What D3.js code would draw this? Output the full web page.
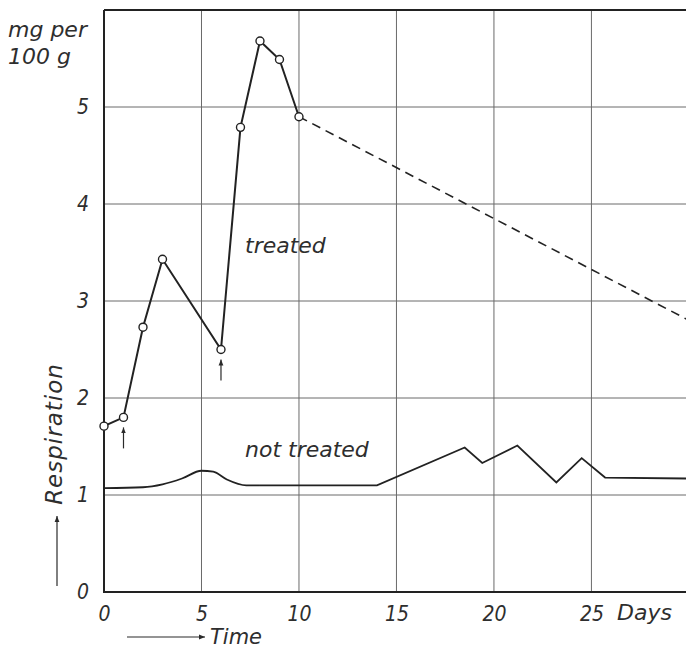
<!DOCTYPE html>
<html>
<head>
<meta charset="utf-8">
<script src="https://cdn.jsdelivr.net/npm/d3@7"></script>
<style>
  body { margin: 0; background: #fff; }
  svg text {
    font-family: 'DejaVu Sans', sans-serif;
    font-style: oblique;
    fill: #2e2e2e;
  }
  svg .tick text {
    font-family: 'DejaVu Sans Condensed', 'DejaVu Sans', sans-serif;
  }
</style>
</head>
<body>
<script>
// Treated samples (open circles)
const treatedDays = [0, 1, 2, 3, 6, 7, 8, 9, 10];
const treatedValues = [1.71, 1.8, 2.73, 3.43, 2.5, 4.79, 5.68, 5.49, 4.9];

// Projected decline (dashed)
const projectedDays = [10, 30];
const projectedValues = [4.9, 2.8];

// Not treated: smooth hump at the start, then straight segments
const controlSmoothDays = [0, 2, 3, 4, 5, 5.6, 6.3, 7.3, 8];
const controlSmoothValues = [1.07, 1.08, 1.11, 1.17, 1.25, 1.24, 1.16, 1.1, 1.1];
const controlDays = [8, 14, 18.5, 19.4, 21.2, 23.2, 24.5, 25.7, 30];
const controlValues = [1.1, 1.1, 1.49, 1.33, 1.51, 1.13, 1.38, 1.18, 1.17];

// Days marked with an arrow under the point
const arrowDays = [1, 6];

const xTicks = [0, 5, 10, 15, 20, 25];
const yTicks = [0, 1, 2, 3, 4, 5];

const width = 686;
const height = 651;

const x = d3.scaleLinear().domain([0, 29.85]).range([104, 686]);
const y = d3.scaleLinear().domain([0, 6]).range([592, 10]);

const svg = d3
  .select('body')
  .append('svg')
  .attr('width', width)
  .attr('height', height);

const defs = svg.append('defs');
defs
  .append('clipPath')
  .attr('id', 'plot')
  .append('rect')
  .attr('x', 104)
  .attr('y', 0)
  .attr('width', 582)
  .attr('height', 600);

defs
  .append('marker')
  .attr('id', 'head')
  .attr('viewBox', '0 0 10 10')
  .attr('refX', 10)
  .attr('refY', 5)
  .attr('markerWidth', 6)
  .attr('markerHeight', 6)
  .attr('markerUnits', 'userSpaceOnUse')
  .attr('orient', 'auto')
  .append('path')
  .attr('d', 'M0,1 L10,5 L0,9 Z')
  .attr('fill', '#2a2a2a');

// Grid
const grid = svg.append('g').attr('stroke', '#6a6a6a').attr('stroke-width', 1);
grid
  .selectAll('line.v')
  .data(xTicks.slice(1))
  .enter()
  .append('line')
  .attr('x1', (d) => x(d))
  .attr('x2', (d) => x(d))
  .attr('y1', y(6))
  .attr('y2', y(0));
grid
  .selectAll('line.h')
  .data(yTicks.slice(1))
  .enter()
  .append('line')
  .attr('x1', x(0))
  .attr('x2', width)
  .attr('y1', (d) => y(d))
  .attr('y2', (d) => y(d));

// Frame: left axis, bottom axis, top border
const frame = svg.append('g').attr('stroke', '#222').attr('stroke-width', 2).attr('fill', 'none');
frame.append('line').attr('x1', x(0)).attr('x2', x(0)).attr('y1', y(6)).attr('y2', y(0) + 1);
frame.append('line').attr('x1', x(0)).attr('x2', width).attr('y1', y(0)).attr('y2', y(0));
frame.append('line').attr('x1', x(0)).attr('x2', width).attr('y1', y(6)).attr('y2', y(6));

// Tick labels via d3 axes
const xAxis = d3.axisBottom(x).tickValues(xTicks).tickSize(0).tickPadding(14).tickFormat(d3.format('d'));
const xg = svg.append('g').attr('transform', `translate(0, ${y(0)})`).call(xAxis);
xg.select('.domain').remove();
xg.selectAll('text').style('font-size', '21px').attr('fill', '#2e2e2e');

const yAxis = d3.axisLeft(y).tickValues(yTicks).tickSize(0).tickPadding(15).tickFormat(d3.format('d'));
const yg = svg.append('g').attr('transform', `translate(${x(0)}, 0)`).call(yAxis);
yg.select('.domain').remove();
yg.selectAll('text').style('font-size', '21px').attr('fill', '#2e2e2e').attr('dy', '0.3em');

// Data lines
const plot = svg.append('g').attr('clip-path', 'url(#plot)');

const line = d3
  .line()
  .x((d) => x(d[0]))
  .y((d) => y(d[1]));

plot
  .append('path')
  .datum(controlSmoothDays.map((d, i) => [d, controlSmoothValues[i]]))
  .attr('d', line.curve(d3.curveMonotoneX))
  .attr('fill', 'none')
  .attr('stroke', '#222')
  .attr('stroke-width', 1.8);

plot
  .append('path')
  .datum(controlDays.map((d, i) => [d, controlValues[i]]))
  .attr('d', line.curve(d3.curveLinear))
  .attr('fill', 'none')
  .attr('stroke', '#222')
  .attr('stroke-width', 1.8);

plot
  .append('path')
  .datum(projectedDays.map((d, i) => [d, projectedValues[i]]))
  .attr('d', line)
  .attr('fill', 'none')
  .attr('stroke', '#222')
  .attr('stroke-width', 1.6)
  .attr('stroke-dasharray', '9,6');

const treated = treatedDays.map((d, i) => [d, treatedValues[i]]);
plot
  .append('path')
  .datum(treated)
  .attr('d', line)
  .attr('fill', 'none')
  .attr('stroke', '#222')
  .attr('stroke-width', 2);

svg
  .append('g')
  .selectAll('circle')
  .data(treated)
  .enter()
  .append('circle')
  .attr('cx', (d) => x(d[0]))
  .attr('cy', (d) => y(d[1]))
  .attr('r', 4)
  .attr('fill', '#fff')
  .attr('stroke', '#222')
  .attr('stroke-width', 1.4);

// Arrows under marked points
svg
  .append('g')
  .selectAll('line')
  .data(arrowDays)
  .enter()
  .append('line')
  .attr('x1', (d) => x(d))
  .attr('x2', (d) => x(d))
  .attr('y1', (d) => y(treatedValues[treatedDays.indexOf(d)]) + 31)
  .attr('y2', (d) => y(treatedValues[treatedDays.indexOf(d)]) + 10)
  .attr('stroke', '#2a2a2a')
  .attr('stroke-width', 1.2)
  .attr('marker-end', 'url(#head)');

// Text labels
svg.append('text').attr('x', 8).attr('y', 37).style('font-size', '22px').text('mg per');
svg.append('text').attr('x', 8).attr('y', 64).style('font-size', '22px').text('100 g');
svg.append('text').attr('x', 245).attr('y', 253).style('font-size', '22px').text('treated');
svg.append('text').attr('x', 245).attr('y', 457).style('font-size', '22px').text('not treated');
svg.append('text').attr('x', 617).attr('y', 620).style('font-size', '22px').text('Days');
svg.append('text').attr('x', 210).attr('y', 644).style('font-size', '21px').text('Time');

svg
  .append('text')
  .attr('transform', 'translate(62, 434) rotate(-90)')
  .attr('text-anchor', 'middle')
  .style('font-size', '23px')
  .style('letter-spacing', '1px')
  .text('Respiration');

// Axis direction arrows
svg
  .append('line')
  .attr('x1', 127)
  .attr('x2', 205)
  .attr('y1', 637)
  .attr('y2', 637)
  .attr('stroke', '#2a2a2a')
  .attr('stroke-width', 1.2)
  .attr('marker-end', 'url(#head)');
svg
  .append('line')
  .attr('x1', 57)
  .attr('x2', 57)
  .attr('y1', 586)
  .attr('y2', 516)
  .attr('stroke', '#2a2a2a')
  .attr('stroke-width', 1.2)
  .attr('marker-end', 'url(#head)');
</script>
</body>
</html>
